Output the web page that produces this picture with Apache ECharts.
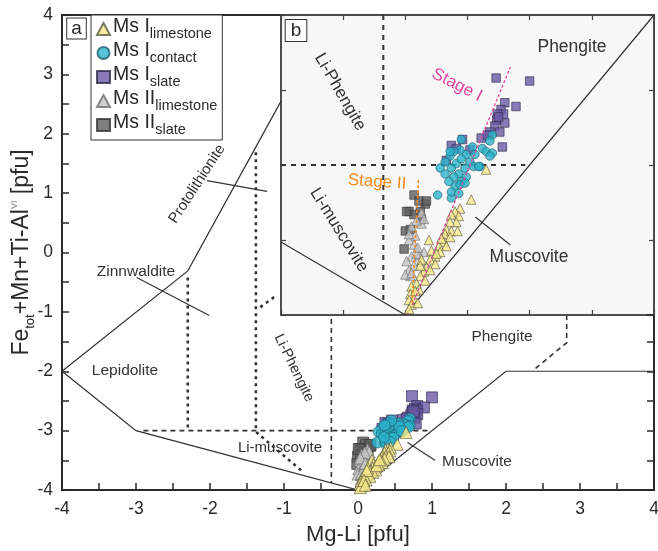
<!DOCTYPE html>
<html><head><meta charset="utf-8">
<script src="https://cdn.jsdelivr.net/npm/echarts@6/dist/echarts.min.js"></script>
<style>html,body{margin:0;padding:0;background:#fff}#c{width:658px;height:551px}</style>
</head><body><div id="c"></div><script>
// ---- data (Mg-Li, Fe_tot+Mn+Ti-Al_VI) ----
const msI_limestone = [[0.53,-3.23],[0.44,-3.29],[0.40,-3.31],[0.37,-3.33],[0.43,-3.34],[0.41,-3.38],[0.36,-3.38],[0.33,-3.43],[0.32,-3.46],[0.37,-3.44],[0.42,-3.44],[0.36,-3.48],[0.19,-3.50],[0.31,-3.51],[0.27,-3.54],[0.33,-3.54],[0.21,-3.57],[0.28,-3.58],[0.24,-3.61],[0.20,-3.63],[0.24,-3.66],[0.17,-3.68],[0.15,-3.71],[0.20,-3.70],[0.12,-3.74],[0.16,-3.77],[0.09,-3.79],[0.05,-3.81],[0.11,-3.83],[0.04,-3.86],[0.07,-3.89],[0.03,-3.90],[0.05,-3.93],[0.03,-3.96],[0.13,-3.63],[0.12,-3.67],[0.65,-3.03],[0.25,-3.59],[0.29,-3.49],[0.08,-3.84],[0.10,-3.92]];
const msI_contact = [[0.70,-2.80],[0.68,-2.84],[0.62,-2.89],[0.65,-2.91],[0.70,-2.92],[0.68,-2.94],[0.54,-2.88],[0.60,-3.01],[0.49,-2.93],[0.44,-2.90],[0.39,-2.91],[0.36,-2.94],[0.32,-2.98],[0.28,-3.02],[0.32,-3.06],[0.37,-3.02],[0.41,-2.99],[0.45,-2.96],[0.52,-2.98],[0.48,-3.02],[0.43,-3.06],[0.39,-3.08],[0.55,-3.01],[0.49,-3.08],[0.45,-3.11],[0.56,-2.93],[0.26,-3.20],[0.37,-3.22],[0.40,-3.14],[0.44,-3.13],[0.48,-3.12],[0.37,-3.18],[0.43,-3.19],[0.35,-3.11],[0.45,-2.83],[0.36,-2.91],[0.59,-3.01]];
const msI_slate = [[0.73,-2.42],[1.00,-2.44],[0.80,-2.585],[0.89,-2.61],[0.77,-2.63],[0.79,-2.66],[0.74,-2.66],[0.735,-2.70],[0.80,-2.72],[0.72,-2.74],[0.76,-2.78],[0.68,-2.78],[0.61,-2.82],[0.46,-2.83],[0.37,-2.87],[0.78,-2.88],[0.41,-2.89],[0.33,-2.97],[0.52,-2.90],[0.66,-2.80],[0.75,-2.68]];
const msII_limestone = [[0.13,-3.39],[0.05,-3.41],[0.08,-3.47],[0.03,-3.50],[0.07,-3.53],[0.15,-3.58],[0.11,-3.60],[0.05,-3.61],[0.01,-3.64],[0.07,-3.67],[0.03,-3.70],[0.13,-3.64],[0.04,-3.74],[0.00,-3.73],[0.13,-3.32],[0.15,-3.36],[0.09,-3.37],[0.03,-3.46],[0.09,-3.59],[0.05,-3.72],[0.10,-3.55]];
const msII_slate = [[0.07,-3.20],[0.16,-3.26],[0.11,-3.24],[0.03,-3.31],[0.07,-3.33],[0.12,-3.31],[0.00,-3.44],[0.04,-3.43],[-0.01,-3.56],[0.13,-3.36],[0.17,-3.24],[0.01,-3.31]];

// field boundaries, main diagram (a)
const mainSolid = [
  [[-4,-2],[-2.3,-0.31],[-1.04,2.55]],
  [[-2.04,1.21],[-1.23,1.03]],
  [[-2.99,-0.42],[-2.01,-1.06]],
  [[-4,-2],[-3,-3],[0,-4],[2,-2],[4,-2]],
  [[0.67,-3.2],[1.04,-3.5]]
];
const mainDashed = [
  [[-2.9,-3],[0.95,-3]],
  [[-0.36,-1.12],[-0.36,-3.88]],
  [[2.4,-1.95],[2.82,-1.52],[2.82,-1.07]]
];
const mainDotted = [
  [[-2.3,-0.42],[-2.3,-3.0]],
  [[-1.38,1.69],[-1.38,-3.02],[-0.74,-3.7]],
  [[-1.32,-0.92],[-1.12,-0.74]]
];
// inset (b)
const insetSolid = [
  [[-1,-3.513],[0,-4],[2,-2]],
  [[0.563,-3.347],[0.845,-3.533]]
];
const insetDashed = [
  [[-0.177,-2],[-0.177,-3.91]],
  [[-1,-3],[0.965,-3]]
];
const stageI = [[0.056,-3.933],[0.845,-2.347]];
const stageII = [[0.056,-3.92],[0.105,-3.1]];

const FONT = 'Liberation Sans, Arial, sans-serif';
const INK = '#2a2a2a';

const groups = [
  {name:'Ms II slate', data:msII_slate, symbol:'rect', color:'#5e5e5e', border:'#333', tri:false},
  {name:'Ms II limestone', data:msII_limestone, symbol:'triangle', color:'#c6c6c6', border:'#6e6e6e', tri:true},
  {name:'Ms I slate', data:msI_slate, symbol:'rect', color:'#6a5aa6', border:'#2e2a4a', tri:false},
  {name:'Ms I contact', data:msI_contact, symbol:'circle', color:'#2bb3cb', border:'#1f5f6e', tri:false},
  {name:'Ms I limestone', data:msI_limestone, symbol:'triangle', color:'#f8e98a', border:'#5a5640', tri:true}
];

function linesSeries(polys, xi, yi, style, z) {
  return {type:'lines', coordinateSystem:'cartesian2d', xAxisIndex:xi, yAxisIndex:yi,
    polyline:true, silent:true, z:z||3, symbol:'none',
    lineStyle:Object.assign({opacity:1}, style),
    data: polys.map(p => ({coords:p}))};
}

const series = [];
series.push(linesSeries(mainSolid, 0, 0, {color:'#333', width:1.2, type:'solid'}));
series.push(linesSeries(mainDashed, 0, 0, {color:'#333', width:1.6, type:[5,4]}));
series.push(linesSeries(mainDotted, 0, 0, {color:'#333', width:2.6, type:[3,4]}));
series.push(linesSeries(insetSolid, 1, 1, {color:'#333', width:1.2, type:'solid'}));
series.push(linesSeries(insetDashed, 1, 1, {color:'#333', width:2, type:[5,5]}));
groups.forEach(g => {
  series.push({type:'scatter', name:g.name, xAxisIndex:0, yAxisIndex:0, data:g.data,
    symbol:g.symbol, symbolSize:g.tri?12:11, z:4,
    itemStyle:{color:g.color, borderColor:g.border, borderWidth:0.8}});
});
groups.forEach(g => {
  series.push({type:'scatter', name:g.name, xAxisIndex:1, yAxisIndex:1, data:g.data,
    symbol:g.symbol, symbolSize:g.tri?9.5:8.5, z:4,
    itemStyle:{color:g.color, borderColor:g.border, borderWidth:0.8}});
});
series.push(linesSeries([stageI], 1, 1, {color:'#e0479e', width:1.3, type:[3,2]}, 5));
series.push(linesSeries([stageII], 1, 1, {color:'#f28a1c', width:1.5, type:[3,2]}, 5));

const tickStyleMain = {inside:true, length:7, lineStyle:{color:INK, width:1.5}};
const tickStyleInset = {inside:true, length:5, lineStyle:{color:'#444', width:1.2}};
const intLabel = v => (Math.abs(v - Math.round(v)) < 1e-9 ? String(Math.round(v)) : '');
const lineMain = {onZero:false, lineStyle:{color:INK, width:2}};
const lineInset = {onZero:false, lineStyle:{color:'#444', width:1.5}};

function txt(text, x, y, size, rotDeg, color, extra) {
  return Object.assign({type:'text', x:x, y:y, z:100, rotation:(rotDeg||0)*Math.PI/180,
    style:{text:text, font:size+'px '+FONT, fontSize:size, fontFamily:FONT, fill:color||'#333',
      align:'center', verticalAlign:'middle', textAlign:'center', textVerticalAlign:'middle'}}, extra||{});
}

const option = {
  animation:false,
  backgroundColor:'#fff',
  grid:[
    {left:62, top:15, width:592, height:475, show:true, borderColor:INK, borderWidth:2, backgroundColor:'transparent', containLabel:false, outerBoundsMode:'none'},
    {left:281, top:15, width:373, height:300, show:true, borderColor:'#444', borderWidth:1.5, backgroundColor:'#f7f7f7', containLabel:false, outerBoundsMode:'none'},
    {left:62, top:315, width:592, height:175, show:false, containLabel:false, outerBoundsMode:'none'}
  ],
  xAxis:[
    {gridIndex:0, type:'value', min:-4, max:4, interval:0.5,
      axisLine:lineMain, axisTick:tickStyleMain, splitLine:{show:false},
      axisLabel:{formatter:intLabel, fontSize:17.5, color:INK, fontFamily:FONT, margin:10},
      name:'Mg-Li [pfu]', nameLocation:'middle', nameGap:34,
      nameTextStyle:{fontSize:22, color:INK, fontFamily:FONT}},
    {gridIndex:1, type:'value', min:-1, max:2, interval:0.5, position:'bottom',
      axisLine:lineInset, axisTick:tickStyleInset,
      axisLabel:{show:false}, splitLine:{show:false}},
    {gridIndex:1, type:'value', min:-1, max:2, interval:0.5, position:'top',
      axisLine:lineInset, axisTick:tickStyleInset,
      axisLabel:{show:false}, splitLine:{show:false}},
    {gridIndex:2, type:'value', min:-4, max:4, show:false}
  ],
  yAxis:[
    {gridIndex:0, type:'value', min:-4, max:4, interval:0.5,
      axisLine:lineMain, axisTick:tickStyleMain, splitLine:{show:false},
      axisLabel:{formatter:intLabel, fontSize:17.5, color:INK, fontFamily:FONT, margin:9},
      name:'{b|Fe}{sub|tot}{b|+Mn+Ti-Al}{sup|VI}{b| [pfu]}', nameLocation:'middle', nameGap:25, nameRotate:90,
      nameMoveOverlap:false,
      nameTextStyle:{color:INK, fontFamily:FONT, fontSize:23,
        rich:{b:{fontSize:23, color:INK, fontFamily:FONT, padding:[0,0,4,0]},
              sub:{fontSize:13, color:INK, fontFamily:FONT, verticalAlign:'bottom'},
              sup:{fontSize:9, color:'#888', fontFamily:FONT, verticalAlign:'top'}}}},
    {gridIndex:1, type:'value', min:-4, max:-2, interval:0.5, position:'left',
      axisLine:lineInset, axisTick:tickStyleInset,
      axisLabel:{show:false}, splitLine:{show:false}},
    {gridIndex:1, type:'value', min:-4, max:-2, interval:0.5, position:'right',
      axisLine:lineInset, axisTick:tickStyleInset,
      axisLabel:{show:false}, splitLine:{show:false}},
    {gridIndex:2, type:'value', min:-4, max:-1.0526, interval:0.5, position:'right',
      axisLine:{show:false, onZero:false}, axisTick:tickStyleMain, axisLabel:{show:false}, splitLine:{show:false}}
  ],
  legend:{
    orient:'vertical', left:91, top:15,
    data:['Ms I limestone','Ms I contact','Ms I slate','Ms II limestone','Ms II slate'],
    backgroundColor:'#fff', borderColor:'#333', borderWidth:1, borderRadius:0,
    padding:[2,5,3,5], itemGap:0, itemWidth:13, itemHeight:12,
    formatter: n => { const p = n.split(' '); return '{m|' + p[0] + ' ' + p[1] + '}{s|' + p[2] + '}'; },
    textStyle:{color:INK, fontFamily:FONT, fontSize:19, padding:[0,0,0,-2],
      rich:{m:{fontSize:19.5, color:INK, fontFamily:FONT, padding:[0,0,4,0]},
            s:{fontSize:14.5, color:INK, fontFamily:FONT, verticalAlign:'bottom'}}}
  },
  graphic:[
    txt('a', 76.5, 28.5, 19, 0, INK, {style:{text:'a', font:'19px '+FONT, fill:INK, align:'center', verticalAlign:'middle', textAlign:'center', textVerticalAlign:'middle', backgroundColor:'#fff', borderColor:'#333', borderWidth:1, padding:[1,4,0,4]}}),
    txt('b', 296, 30.5, 19, 0, INK, {style:{text:'b', font:'19px '+FONT, fill:INK, align:'center', verticalAlign:'middle', textAlign:'center', textVerticalAlign:'middle', backgroundColor:'#fff', borderColor:'#333', borderWidth:1, padding:[1,5,1,5]}}),
    txt('Protolithionite', 197, 184, 15, 57),
    txt('Zinnwaldite', 136, 272, 15.5),
    txt('Lepidolite', 125, 371, 15.5),
    txt('Li-Phengite', 294, 368, 14.5, -64),
    txt('Li-muscovite', 280, 448, 15),
    txt('Phengite', 502, 337, 15.5),
    txt('Muscovite', 477, 462, 15.5),
    txt('Li-Phengite', 340, 92, 17, -60),
    txt('Li-muscovite', 339, 230, 17, -58),
    txt('Phengite', 572, 47, 17.5),
    txt('Muscovite', 529, 257, 17.5),
    txt('Stage I', 457, 85, 17, -27, '#e0479e'),
    txt('Stage II', 377, 182, 17, -4, '#f28a1c')
  ],
  series:series
};
const chart = echarts.init(document.getElementById('c'), null, {renderer:'canvas'});
chart.setOption(option);
</script></body></html>
